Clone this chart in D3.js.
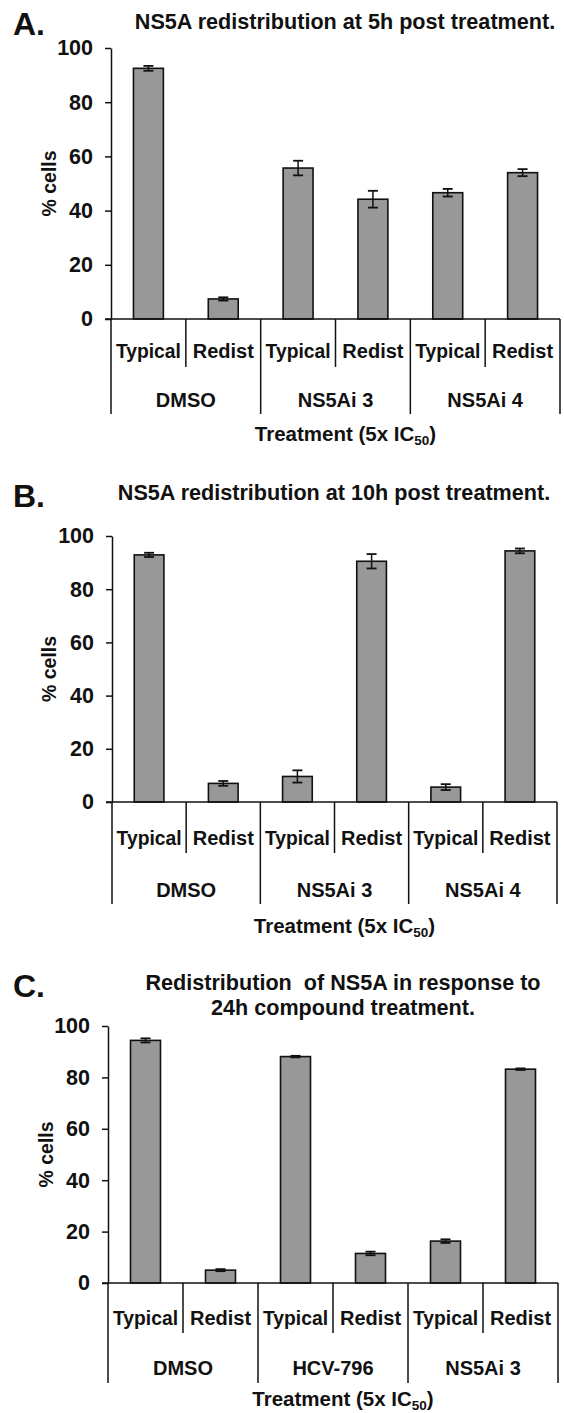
<!DOCTYPE html>
<html>
<head>
<meta charset="utf-8">
<script src="https://cdn.jsdelivr.net/npm/d3@7"></script>
<style>
  html, body { margin: 0; padding: 0; background: #fff; }
  svg { display: block; }
  text { font-family: "Liberation Sans", Arial, sans-serif; font-weight: bold; fill: #111; }
</style>
</head>
<body>
<svg id="chart" width="564" height="1413"></svg>
<script>
// ---------- data ----------
const subcats = ["Typical", "Redist"];
const yTicks = [0, 20, 40, 60, 80, 100];

const groupsA = ["DMSO", "NS5Ai 3", "NS5Ai 4"];
const valuesA = [92.5, 7.4, 55.7, 44.2, 46.6, 54.0];
const errorsA = [0.9, 0.6, 2.7, 3.1, 1.4, 1.3];

const groupsB = ["DMSO", "NS5Ai 3", "NS5Ai 4"];
const valuesB = [92.9, 7.0, 9.6, 90.5, 5.6, 94.4];
const errorsB = [0.8, 0.9, 2.3, 2.7, 1.1, 0.9];

const groupsC = ["DMSO", "HCV-796", "NS5Ai 3"];
const valuesC = [94.4, 5.0, 88.1, 11.5, 16.3, 83.2];
const errorsC = [0.8, 0.4, 0.3, 0.7, 0.7, 0.3];

const titleA = ["NS5A redistribution at 5h post treatment."];
const titleB = ["NS5A redistribution at 10h post treatment."];
const titleC = ["Redistribution  of NS5A in response to", "24h compound treatment."];
const yLabel = "% cells";

// ---------- layout ----------
const panels = [
  { letter: "A.", groups: groupsA, values: valuesA, errors: errorsA, title: titleA,
    x0: 111, x1: 560, yTop: 48, yBot: 319, letterY: 35, titleY: 29, titleX: 345,
    ylabX: 56, subY: 358, subDiv: 367, grpY: 407, grpDiv: 414, axTitleY: 441 },
  { letter: "B.", groups: groupsB, values: valuesB, errors: errorsB, title: titleB,
    x0: 112, x1: 557, yTop: 536, yBot: 802, letterY: 507, titleY: 500, titleX: 334,
    ylabX: 56, subY: 845, subDiv: 853, grpY: 897, grpDiv: 904, axTitleY: 933 },
  { letter: "C.", groups: groupsC, values: valuesC, errors: errorsC, title: titleC,
    x0: 108, x1: 558, yTop: 1026, yBot: 1283, letterY: 997, titleY: 990, titleX: 343,
    ylabX: 53, subY: 1325, subDiv: 1333, grpY: 1375, grpDiv: 1383, axTitleY: 1406 }
];

const svg = d3.select("#chart");

panels.forEach(p => {
  const g = svg.append("g");
  const keys = [];
  p.groups.forEach(gr => subcats.forEach(s => keys.push(gr + "|" + s)));
  const data = keys.map((k, i) => ({ key: k, group: k.split("|")[0], sub: k.split("|")[1], v: p.values[i], e: p.errors[i] }));

  const x = d3.scaleBand().domain(keys).range([p.x0, p.x1]).padding(0);
  const y = d3.scaleLinear().domain([0, 100]).range([p.yBot, p.yTop]);
  const bw = x.bandwidth();

  // panel letter
  g.append("text").attr("x", 13).attr("y", p.letterY)
    .style("font-size", "32px").text(p.letter);

  // title
  p.title.forEach((line, i) => {
    g.append("text").attr("x", p.titleX).attr("y", p.titleY + i * 25)
      .attr("text-anchor", "middle").style("font-size", "21.6px")
      .style("white-space", "pre").attr("xml:space", "preserve").text(line);
  });

  // y axis
  const yAxis = d3.axisLeft(y).tickValues(yTicks).tickSize(6).tickSizeOuter(0).tickPadding(12);
  const ya = g.append("g").attr("transform", `translate(${p.x0},0)`).call(yAxis);
  ya.select(".domain").attr("stroke", "#111").attr("stroke-width", 1.5);
  ya.selectAll(".tick line").attr("stroke", "#111").attr("stroke-width", 1.5);
  ya.selectAll(".tick text").style("font-size", "21.5px").attr("fill", "#111")
    .style("font-family", '"Liberation Sans", Arial, sans-serif').style("font-weight", "bold");

  // y label
  g.append("text")
    .attr("transform", `translate(${p.ylabX},${(p.yTop + p.yBot) / 2}) rotate(-90)`)
    .attr("text-anchor", "middle").style("font-size", "19.5px").text(yLabel);

  // bars
  g.selectAll("rect.bar").data(data).enter().append("rect")
    .attr("class", "bar")
    .attr("x", d => x(d.key) + bw * 0.3)
    .attr("width", bw * 0.4)
    .attr("y", d => y(d.v))
    .attr("height", d => y(0) - y(d.v))
    .attr("fill", "#989898").attr("stroke", "#111").attr("stroke-width", 1.6);

  // error bars
  const eb = g.selectAll("g.err").data(data).enter().append("g").attr("class", "err");
  const cx = d => x(d.key) + bw / 2;
  eb.append("line").attr("x1", cx).attr("x2", cx)
    .attr("y1", d => y(d.v + d.e)).attr("y2", d => y(d.v - d.e))
    .attr("stroke", "#111").attr("stroke-width", 1.5);
  [1, -1].forEach(sgn => {
    eb.append("line").attr("x1", d => cx(d) - 5).attr("x2", d => cx(d) + 5)
      .attr("y1", d => y(d.v + sgn * d.e)).attr("y2", d => y(d.v + sgn * d.e))
      .attr("stroke", "#111").attr("stroke-width", 1.8);
  });

  // x axis baseline
  g.append("line").attr("x1", p.x0 - 6).attr("x2", p.x1)
    .attr("y1", y(0)).attr("y2", y(0)).attr("stroke", "#111").attr("stroke-width", 1.5);

  // dividers
  const bounds = keys.map(k => x(k)).concat([p.x1]);
  bounds.forEach((bx, i) => {
    g.append("line").attr("x1", bx).attr("x2", bx)
      .attr("y1", y(0)).attr("y2", i % 2 === 0 ? p.grpDiv : p.subDiv)
      .attr("stroke", "#111").attr("stroke-width", 1.5);
  });

  // sub-category labels
  g.selectAll("text.sub").data(data).enter().append("text")
    .attr("class", "sub")
    .attr("x", d => x(d.key) + bw / 2).attr("y", p.subY)
    .attr("text-anchor", "middle").style("font-size", "20px")
    .each(function(d) {
      if (d.sub === "Typical") d3.select(this).attr("textLength", 65).attr("lengthAdjust", "spacingAndGlyphs");
    })
    .text(d => d.sub);

  // group labels
  p.groups.forEach((gr, i) => {
    const gx = (x(gr + "|" + subcats[0]) + x(gr + "|" + subcats[1]) + bw) / 2;
    g.append("text").attr("x", gx).attr("y", p.grpY)
      .attr("text-anchor", "middle").style("font-size", "20px").text(gr);
  });

  // axis title
  const at = g.append("text").attr("x", (p.x0 + p.x1) / 2 + 10).attr("y", p.axTitleY)
    .attr("text-anchor", "middle").style("font-size", "20.5px");
  at.append("tspan").text("Treatment (5x IC");
  at.append("tspan").attr("dy", 4).style("font-size", "13.5px").text("50");
  at.append("tspan").attr("dy", -4).text(")");
});
</script>
</body>
</html>
